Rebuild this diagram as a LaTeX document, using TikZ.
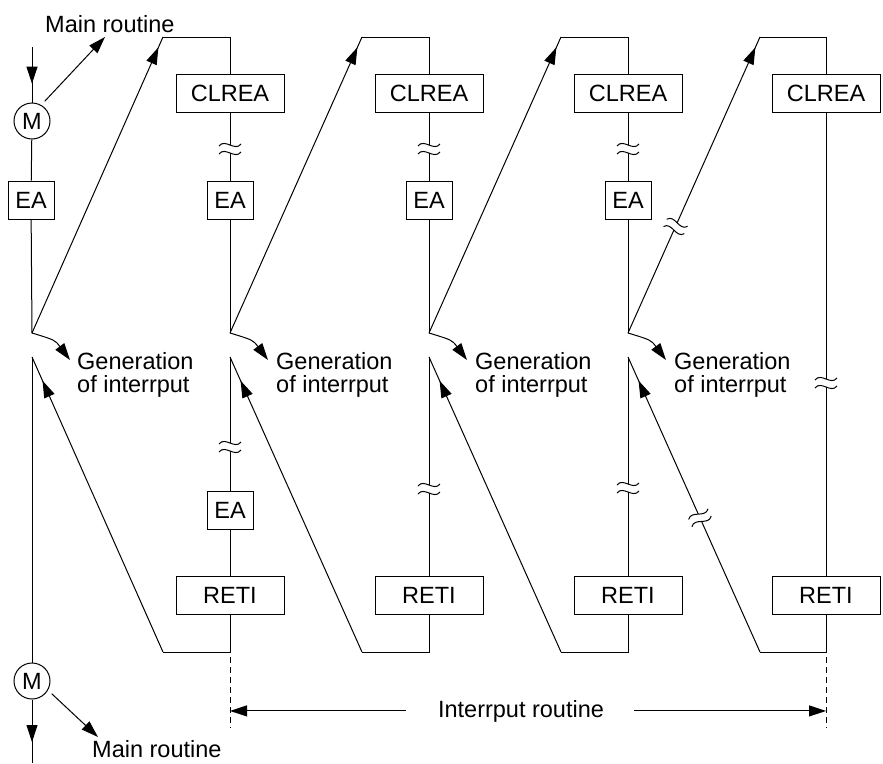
\documentclass[tikz,border=0pt]{standalone}
\usepackage{fontspec}
\setmainfont{Liberation Sans}
\usetikzlibrary{arrows.meta,positioning,calc,decorations.markings}
\tikzset{
  >={Triangle[length=17pt,width=11pt]},
  box/.style={rectangle, draw=black, fill=white, line width=1pt,
    minimum width=108pt, minimum height=38pt, inner sep=0pt,
    font=\fontsize{23.5}{24}\selectfont},
  eabox/.style={box, minimum width=46pt},
  mcircle/.style={circle, draw=black, line width=1pt, minimum size=36pt,
    inner sep=0pt, font=\fontsize{23.5}{24}\selectfont},
  lbl/.style={align=left, inner sep=0pt, font=\fontsize{23.5}{23}\selectfont},
  line/.style={draw, line width=1pt},
  flow/.style={draw, ->, line width=1pt},
  midflow/.style={line, postaction={decorate},
    decoration={markings, mark=at position #1 with {\arrow{>}}}},
  dashline/.style={draw, line width=1pt, dash pattern=on 6pt off 4pt},
  brk/.pic={
    \fill[white] (-1.6,-4) rectangle (1.6,4);
    \draw[line width=1pt] (-11,-3) .. controls (-5,-11) and (5,3) .. (11,-5);
    \draw[line width=1pt] (-11,5) .. controls (-5,-3) and (5,11) .. (11,3);
  }
}
\begin{document}
\begin{tikzpicture}[x=1pt, y=-1pt]
\useasboundingbox (0,0) rectangle (883,763);

% main routine
\node[lbl, anchor=base west] (mainin) at (45,32) {Main routine};
\coordinate (mtop) at (32,47);
\coordinate (mintip) at (105,37);
\node[mcircle] (m1) at (32,121) {M};
\node[eabox] (ea0) at (31,200) {EA};
\coordinate (intr0) at (32,333);
\coordinate (gen0) at (70,360);
\node[lbl, anchor=north west] (gentxt0) at (77,352) {Generation\\of interrput};
\coordinate (back0) at (32,357);
\node[mcircle] (m2) at (32,681) {M};
\coordinate (mbot) at (32,763);
\coordinate (mouttip) at (98,737);
\node[lbl, anchor=base west] (mainout) at (92,757) {Main routine};

% interrupt 1
\coordinate (top1) at (163,37);
\coordinate (cor1) at (230,37);
\node[box] (clrea1) at (230,93) {CLREA};
\node[eabox] (ea1) at (230,200) {EA};
\coordinate (intr1) at (230,333);
\coordinate (gen1) at (268,360);
\node[lbl, anchor=north west] (gentxt1) at (276,352) {Generation\\of interrput};
\coordinate (back1) at (230,357);
\node[eabox] (eb1) at (230,510) {EA};
\node[box] (reti1) at (230,595) {RETI};
\coordinate (bot1) at (230,652);
\coordinate (low1) at (163,652);

% interrupt 2
\coordinate (top2) at (362,37);
\coordinate (cor2) at (429,37);
\node[box] (clrea2) at (429,93) {CLREA};
\node[eabox] (ea2) at (429,200) {EA};
\coordinate (intr2) at (429,333);
\coordinate (gen2) at (467,360);
\node[lbl, anchor=north west] (gentxt2) at (475,352) {Generation\\of interrput};
\coordinate (back2) at (429,357);
\node[box] (reti2) at (429,595) {RETI};
\coordinate (bot2) at (429,652);
\coordinate (low2) at (362,652);

% interrupt 3
\coordinate (top3) at (561,37);
\coordinate (cor3) at (628,37);
\node[box] (clrea3) at (628,93) {CLREA};
\node[eabox] (ea3) at (628,200) {EA};
\coordinate (intr3) at (628,333);
\coordinate (gen3) at (666,360);
\node[lbl, anchor=north west] (gentxt3) at (674,352) {Generation\\of interrput};
\coordinate (back3) at (628,357);
\node[box] (reti3) at (628,595) {RETI};
\coordinate (bot3) at (628,652);
\coordinate (low3) at (561,652);

% interrupt 4
\coordinate (top4) at (760,37);
\coordinate (cor4) at (826,37);
\node[box] (clrea4) at (826,93) {CLREA};
\node[box] (reti4) at (826,595) {RETI};
\coordinate (bot4) at (826,652);
\coordinate (low4) at (760,652);

% interrupt routine span
\coordinate (dash1a) at (230,657);
\coordinate (dash1b) at (230,728);
\coordinate (dash4a) at (826,657);
\coordinate (dash4b) at (826,728);
\node[lbl, anchor=base] (introut) at (521,717) {Interrput routine};

\draw[midflow=0.66] (mtop) -- (m1);
\draw[flow, shorten <=5pt] (m1.60) -- (mintip);
\draw[line] (m1) -- (ea0);
\draw[line] (ea0) -- (intr0);
\draw[line] (back0) -- (m2);
\draw[midflow=0.67] (m2) -- (mbot);
\draw[flow, shorten <=5pt] (m2.-30) -- (mouttip);

\draw[flow] (intr0) .. controls +(23,7) .. (gen0);
\draw[flow] (intr1) .. controls +(23,7) .. (gen1);
\draw[flow] (intr2) .. controls +(23,7) .. (gen2);
\draw[flow] (intr3) .. controls +(23,7) .. (gen3);

\draw[midflow=0.965] (intr0) -- (top1);
\draw[line] (top1) -- (cor1) -- (clrea1);
\draw[line] (clrea1) -- (ea1);
\draw[line] (ea1) -- (intr1);
\draw[line] (back1) -- (eb1);
\draw[line] (eb1) -- (reti1);
\draw[line] (reti1) -- (bot1) -- (low1);
\draw[midflow=0.92] (low1) -- (back0);

\draw[midflow=0.965] (intr1) -- (top2);
\draw[line] (top2) -- (cor2) -- (clrea2);
\draw[line] (clrea2) -- (ea2);
\draw[line] (ea2) -- (intr2);
\draw[line] (back2) -- (reti2);
\draw[line] (reti2) -- (bot2) -- (low2);
\draw[midflow=0.92] (low2) -- (back1);

\draw[midflow=0.965] (intr2) -- (top3);
\draw[line] (top3) -- (cor3) -- (clrea3);
\draw[line] (clrea3) -- (ea3);
\draw[line] (ea3) -- (intr3);
\draw[line] (back3) -- (reti3);
\draw[line] (reti3) -- (bot3) -- (low3);
\draw[midflow=0.92] (low3) -- (back2);

\draw[midflow=0.965] (intr3) -- (top4);
\draw[line] (top4) -- (cor4) -- (clrea4);
\draw[line] (clrea4) -- (reti4);
\draw[line] (reti4) -- (bot4) -- (low4);
\draw[midflow=0.92] (low4) -- (back3);

% breaks
\pic at (230,149) {brk};
\pic at (429,149) {brk};
\pic at (628,149) {brk};
\pic at (230,447) {brk};
\pic at (429,489) {brk};
\pic at (628,488) {brk};
\pic at (826,383) {brk};
\pic[rotate=-24] at ($(intr3)!0.36!(top4)$) {brk};
\pic[rotate=24] at ($(back3)!0.545!(low4)$) {brk};

\draw[dashline] (dash1a) -- (dash1b);
\draw[dashline] (dash4a) -- (dash4b);
\draw[flow] ([xshift=-32pt]introut.west) -- (introut.west -| dash1a);
\draw[flow] ([xshift=30pt]introut.east) -- (introut.east -| dash4a);

\end{tikzpicture}
\end{document}
